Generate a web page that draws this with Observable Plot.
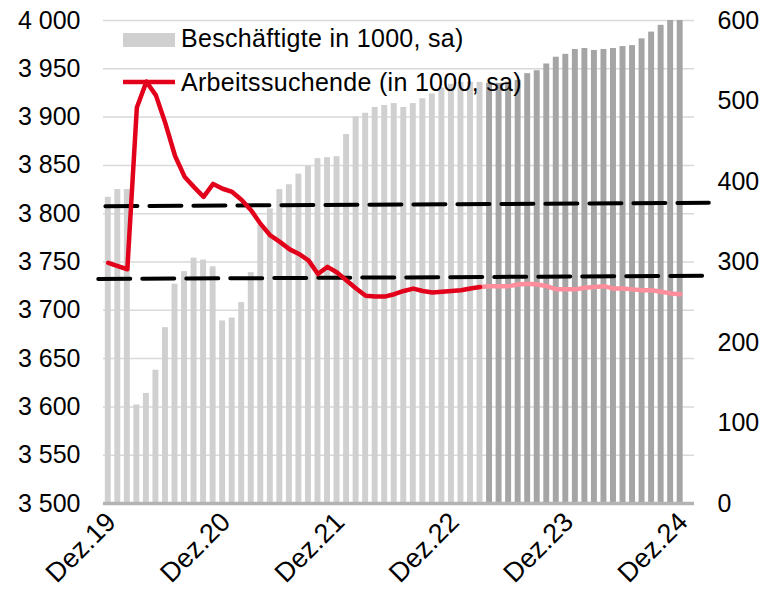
<!DOCTYPE html>
<html><head><meta charset="utf-8">
<script src="https://cdn.jsdelivr.net/npm/d3@7"></script>
<script src="https://cdn.jsdelivr.net/npm/@observablehq/plot@0.6"></script>
<style>body{margin:0;background:#fff}#chart{width:767px;height:596px}</style>
</head><body><div id="chart"></div>
<script>
// Beschäftigte in 1000 (sa), monthly Dez.19 .. Dez.24 (left axis)
const beschaeftigte = [3817,3825,3825,3602,3614,3638,3682,3727,3740,3754,3752,3745,3689,3692,3708,3739,3788,3805,3825,3830,
  3841,3849,3857,3858,3859,3882,3900,3904,3910,3912,3914,3910,3914,3919,3924,3930,3934,3936,3936,3936,
  3935,3935,3936,3938,3945,3948,3955,3962,3965,3970,3971,3969,3970,3971,3973,3974,3981,3988,3995,4000,4000];
// Arbeitssuchende in 1000 (sa), monthly Dez.19 .. Dez.24 (right axis)
const arbeitssuchende = [299,295,291,492,524,507,472,432,406,393,381,397,391,387,377,364,347,333,325,316,
  310,302,285,294,287,277,267,258,257,257,260,264,267,264,262,263,264,265,267,269,
  270,270,270,272,273,272,270,266,266,266,268,269,270,267,267,266,265,265,263,261,260];
const forecastBarStart = 40;   // first forecast month for the bars
const forecastLineStart = 39;  // first forecast month for the line
const xTickIndex = [0,12,24,36,48,60];
const xTickLabels = ["Dez.19","Dez.20","Dez.21","Dez.22","Dez.23","Dez.24"];
const leftTicks = [3500,3550,3600,3650,3700,3750,3800,3850,3900,3950,4000];
const rightTicks = [0,100,200,300,400,500,600];
const trendUpperX = [-0.3, 63.0], trendUpperY = [3807.8, 3811.3];
const trendLowerX = [-1.05, 62.3], trendLowerY = [3732.4, 3735.7];
const legendLabels = ["Beschäftigte in 1000, sa)", "Arbeitssuchende (in 1000, sa)"];

const toLeft = v => 3500 + v * 500 / 600;
const fromLeft = y => Math.round((y - 3500) * 600 / 500);
const fmt = n => { const s = String(n); return s.length > 3 ? s.slice(0, -3) + "\u00a0" + s.slice(-3) : s; };

const bars = beschaeftigte.map((v, i) => ({i, v}));
const lineData = arbeitssuchende.map((v, i) => ({i, y: toLeft(v)}));
const trendUpper = trendUpperX.map((x, k) => ({x, y: trendUpperY[k]}));
const trendLower = trendLowerX.map((x, k) => ({x, y: trendLowerY[k]}));

const FONT = "'Liberation Sans', Arial, sans-serif";
const plot = Plot.plot({
  width: 767, height: 596,
  marginTop: 20, marginBottom: 93, marginLeft: 103, marginRight: 73,
  style: {fontFamily: FONT, fontSize: "25px", color: "#000", background: "#fff", overflow: "visible"},
  x: {type: "linear", domain: [-0.5, 61.5], label: null},
  y: {domain: [3500, 4000], label: null},
  marks: [
    Plot.ruleY(leftTicks.slice(1), {stroke: "#d9d9d9", strokeWidth: 1.5}),
    Plot.rectY(bars.filter(d => d.i < forecastBarStart), {x1: d => d.i - 0.5, x2: d => d.i + 0.5, y1: 3500, y2: "v", insetLeft: 1.8, insetRight: 1.8, fill: "#d0d0d0"}),
    Plot.rectY(bars.filter(d => d.i >= forecastBarStart), {x1: d => d.i - 0.5, x2: d => d.i + 0.5, y1: 3500, y2: "v", insetLeft: 1.8, insetRight: 1.8, fill: "#a5a5a5"}),
    Plot.ruleY([3500], {stroke: "#b3b3b3", strokeWidth: 3.5}),
    Plot.line(trendUpper, {x: "x", y: "y", stroke: "#000", strokeWidth: 4, strokeDasharray: "32,12"}),
    Plot.line(trendLower, {x: "x", y: "y", stroke: "#000", strokeWidth: 4, strokeDasharray: "32,12"}),
    Plot.line(lineData.filter(d => d.i >= forecastLineStart), {x: "i", y: "y", stroke: "#ff8d9c", strokeWidth: 4.5, strokeLinejoin: "round", strokeLinecap: "round"}),
    Plot.line(lineData.filter(d => d.i <= forecastLineStart), {x: "i", y: "y", stroke: "#e2001a", strokeWidth: 4.5, strokeLinejoin: "round"}),
    Plot.axisY({ticks: leftTicks, tickFormat: fmt, tickSize: 0, tickPadding: 23, label: null, fontSize: 25}),
    Plot.axisY({anchor: "right", ticks: rightTicks.map(toLeft), tickFormat: fromLeft, tickSize: 0, tickPadding: 23, label: null, fontSize: 25}),
    Plot.axisX({ticks: xTickIndex, tickFormat: i => xTickLabels[xTickIndex.indexOf(i)], tickRotate: -45, tickSize: 0, tickPadding: 14, dx: 3, label: null, fontSize: 27, style: {letterSpacing: "1px"}})
  ]
});

const svg = d3.select(plot);
const g = svg.append("g").attr("font-family", FONT).attr("font-size", 25).attr("letter-spacing", "0.3px").attr("fill", "#000").attr("text-anchor", "start");
g.append("rect").attr("x", 123).attr("y", 33).attr("width", 52).attr("height", 14).attr("fill", "#d0d0d0");
g.append("text").attr("x", 181).attr("y", 47).attr("text-anchor", "start").text(legendLabels[0]);
g.append("line").attr("x1", 123).attr("x2", 175).attr("y1", 82).attr("y2", 82).attr("stroke", "#e2001a").attr("stroke-width", 4.5);
g.append("text").attr("x", 181).attr("y", 91).attr("text-anchor", "start").text(legendLabels[1]);

document.getElementById("chart").appendChild(plot);
</script>
</body></html>
